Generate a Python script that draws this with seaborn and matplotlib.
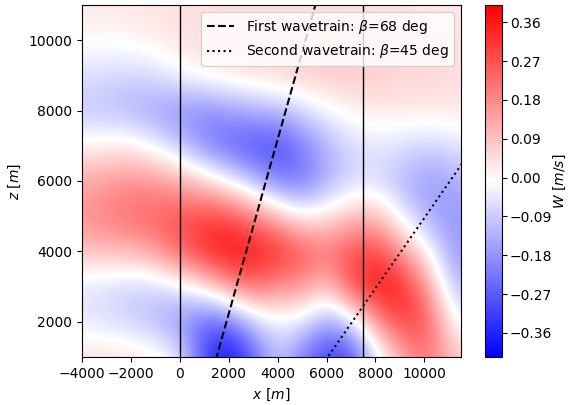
import numpy as np
import matplotlib
matplotlib.use("Agg")
import matplotlib.pyplot as plt
import seaborn as sns

# ---- data ----
x_centers = [-4000, -3000, -2000, -1000, 0, 1000, 2000, 3000, 4000, 5000,
             6000, 7000, 8000, 9000, 10000, 11000, 12000]
z_centers = [1000, 2000, 3000, 4000, 5000, 6000, 7000, 8000, 9000, 10000, 11000]

w_z1000 = [0.05, 0.05, 0.04, 0.03, -0.04, -0.30, -0.41, -0.26, -0.10, -0.22, -0.33, -0.30, -0.06, 0.10, 0.22, 0.12, 0.05]
w_z2000 = [-0.05, -0.06, -0.08, -0.13, -0.18, -0.26, -0.24, -0.10, -0.03, -0.05, -0.16, -0.08, 0.15, 0.30, 0.28, 0.03, -0.05]
w_z3000 = [-0.05, -0.07, -0.09, -0.08, -0.04, 0.03, 0.15, 0.23, 0.17, 0.16, 0.08, 0.28, 0.38, 0.35, 0.18, -0.08, -0.15]
w_z4000 = [0.09, 0.10, 0.11, 0.15, 0.25, 0.33, 0.39, 0.37, 0.34, 0.27, 0.22, 0.27, 0.30, 0.16, 0.02, -0.15, -0.18]
w_z5000 = [0.17, 0.20, 0.23, 0.25, 0.27, 0.30, 0.28, 0.20, 0.10, 0.01, 0.03, 0.10, 0.10, -0.03, -0.13, -0.18, -0.16]
w_z6000 = [0.13, 0.15, 0.17, 0.16, 0.12, 0.06, -0.02, -0.12, -0.22, -0.23, -0.14, -0.08, -0.07, -0.12, -0.17, -0.15, -0.12]
w_z7000 = [0.01, 0.02, 0.02, -0.03, -0.10, -0.20, -0.26, -0.29, -0.30, -0.22, -0.13, -0.07, -0.05, -0.06, -0.08, -0.06, -0.04]
w_z8000 = [-0.10, -0.11, -0.13, -0.16, -0.19, -0.20, -0.17, -0.14, -0.12, -0.07, -0.02, 0.01, 0.03, 0.03, 0.03, 0.03, 0.03]
w_z9000 = [-0.06, -0.07, -0.08, -0.06, -0.02, 0.01, 0.03, 0.05, 0.06, 0.08, 0.08, 0.08, 0.07, 0.06, 0.06, 0.05, 0.04]
w_z10000 = [0.00, 0.00, 0.01, 0.02, 0.04, 0.05, 0.06, 0.06, 0.06, 0.06, 0.06, 0.06, 0.05, 0.05, 0.05, 0.04, 0.04]
w_z11000 = [0.03, 0.03, 0.03, 0.04, 0.04, 0.04, 0.04, 0.04, 0.04, 0.04, 0.04, 0.04, 0.04, 0.04, 0.03, 0.03, 0.03]

w_min, w_max = -0.416, 0.40
cbar_ticks = [-0.36, -0.27, -0.18, -0.09, 0.00, 0.09, 0.18, 0.27, 0.36]

mountain_edges = [0, 7500]
wave_betas = [68, 45]                 # degrees
wave_ground_x = [1100, 5050]          # x where each ray meets z = 0
wave_labels = [r"First wavetrain: $\beta$=68 deg",
               r"Second wavetrain: $\beta$=45 deg"]
wave_styles = ["--", ":"]

x_range = [-4000, 11500]
z_range = [1000, 11000]

# ---- figure ----
W = np.array([w_z1000, w_z2000, w_z3000, w_z4000, w_z5000, w_z6000,
              w_z7000, w_z8000, w_z9000, w_z10000, w_z11000])
dx = x_centers[1] - x_centers[0]
dz = z_centers[1] - z_centers[0]

fig = plt.figure(figsize=(5.68, 4.05), dpi=100)
ax = fig.add_axes([82 / 568, 48 / 405, 379 / 568, 352 / 405])
cax = fig.add_axes([485 / 568, 48 / 405, 17 / 568, 352 / 405])

im = ax.imshow(W, origin="lower", cmap="bwr", vmin=w_min, vmax=w_max,
               extent=[x_centers[0] - dx / 2, x_centers[-1] + dx / 2,
                       z_centers[0] - dz / 2, z_centers[-1] + dz / 2],
               aspect="auto", interpolation="bicubic")

for xe in mountain_edges:
    ax.axvline(xe, color="black", lw=1)

z_line = np.array([0.0, 12000.0])
for beta, x0, lab, ls in zip(wave_betas, wave_ground_x, wave_labels, wave_styles):
    xl = x0 + z_line / np.tan(np.radians(beta))
    sns.lineplot(x=xl, y=z_line, ax=ax, color="black", linestyle=ls,
                 lw=1.5, label=lab, sort=False, estimator=None)

ax.set_xlim(*x_range)
ax.set_ylim(*z_range)
ax.set_xlabel(r"$x\ [m]$")
ax.set_ylabel(r"$z\ [m]$")
ax.legend(loc="upper right")

cb = fig.colorbar(im, cax=cax, ticks=cbar_ticks)
cb.ax.set_yticklabels([f"{t:.2f}".replace("-", "\u2212") for t in cbar_ticks])
cb.ax.tick_params(pad=2)
cb.set_label(r"$W\ [m/s]$", labelpad=0)

fig.savefig("out.png", dpi=100)
